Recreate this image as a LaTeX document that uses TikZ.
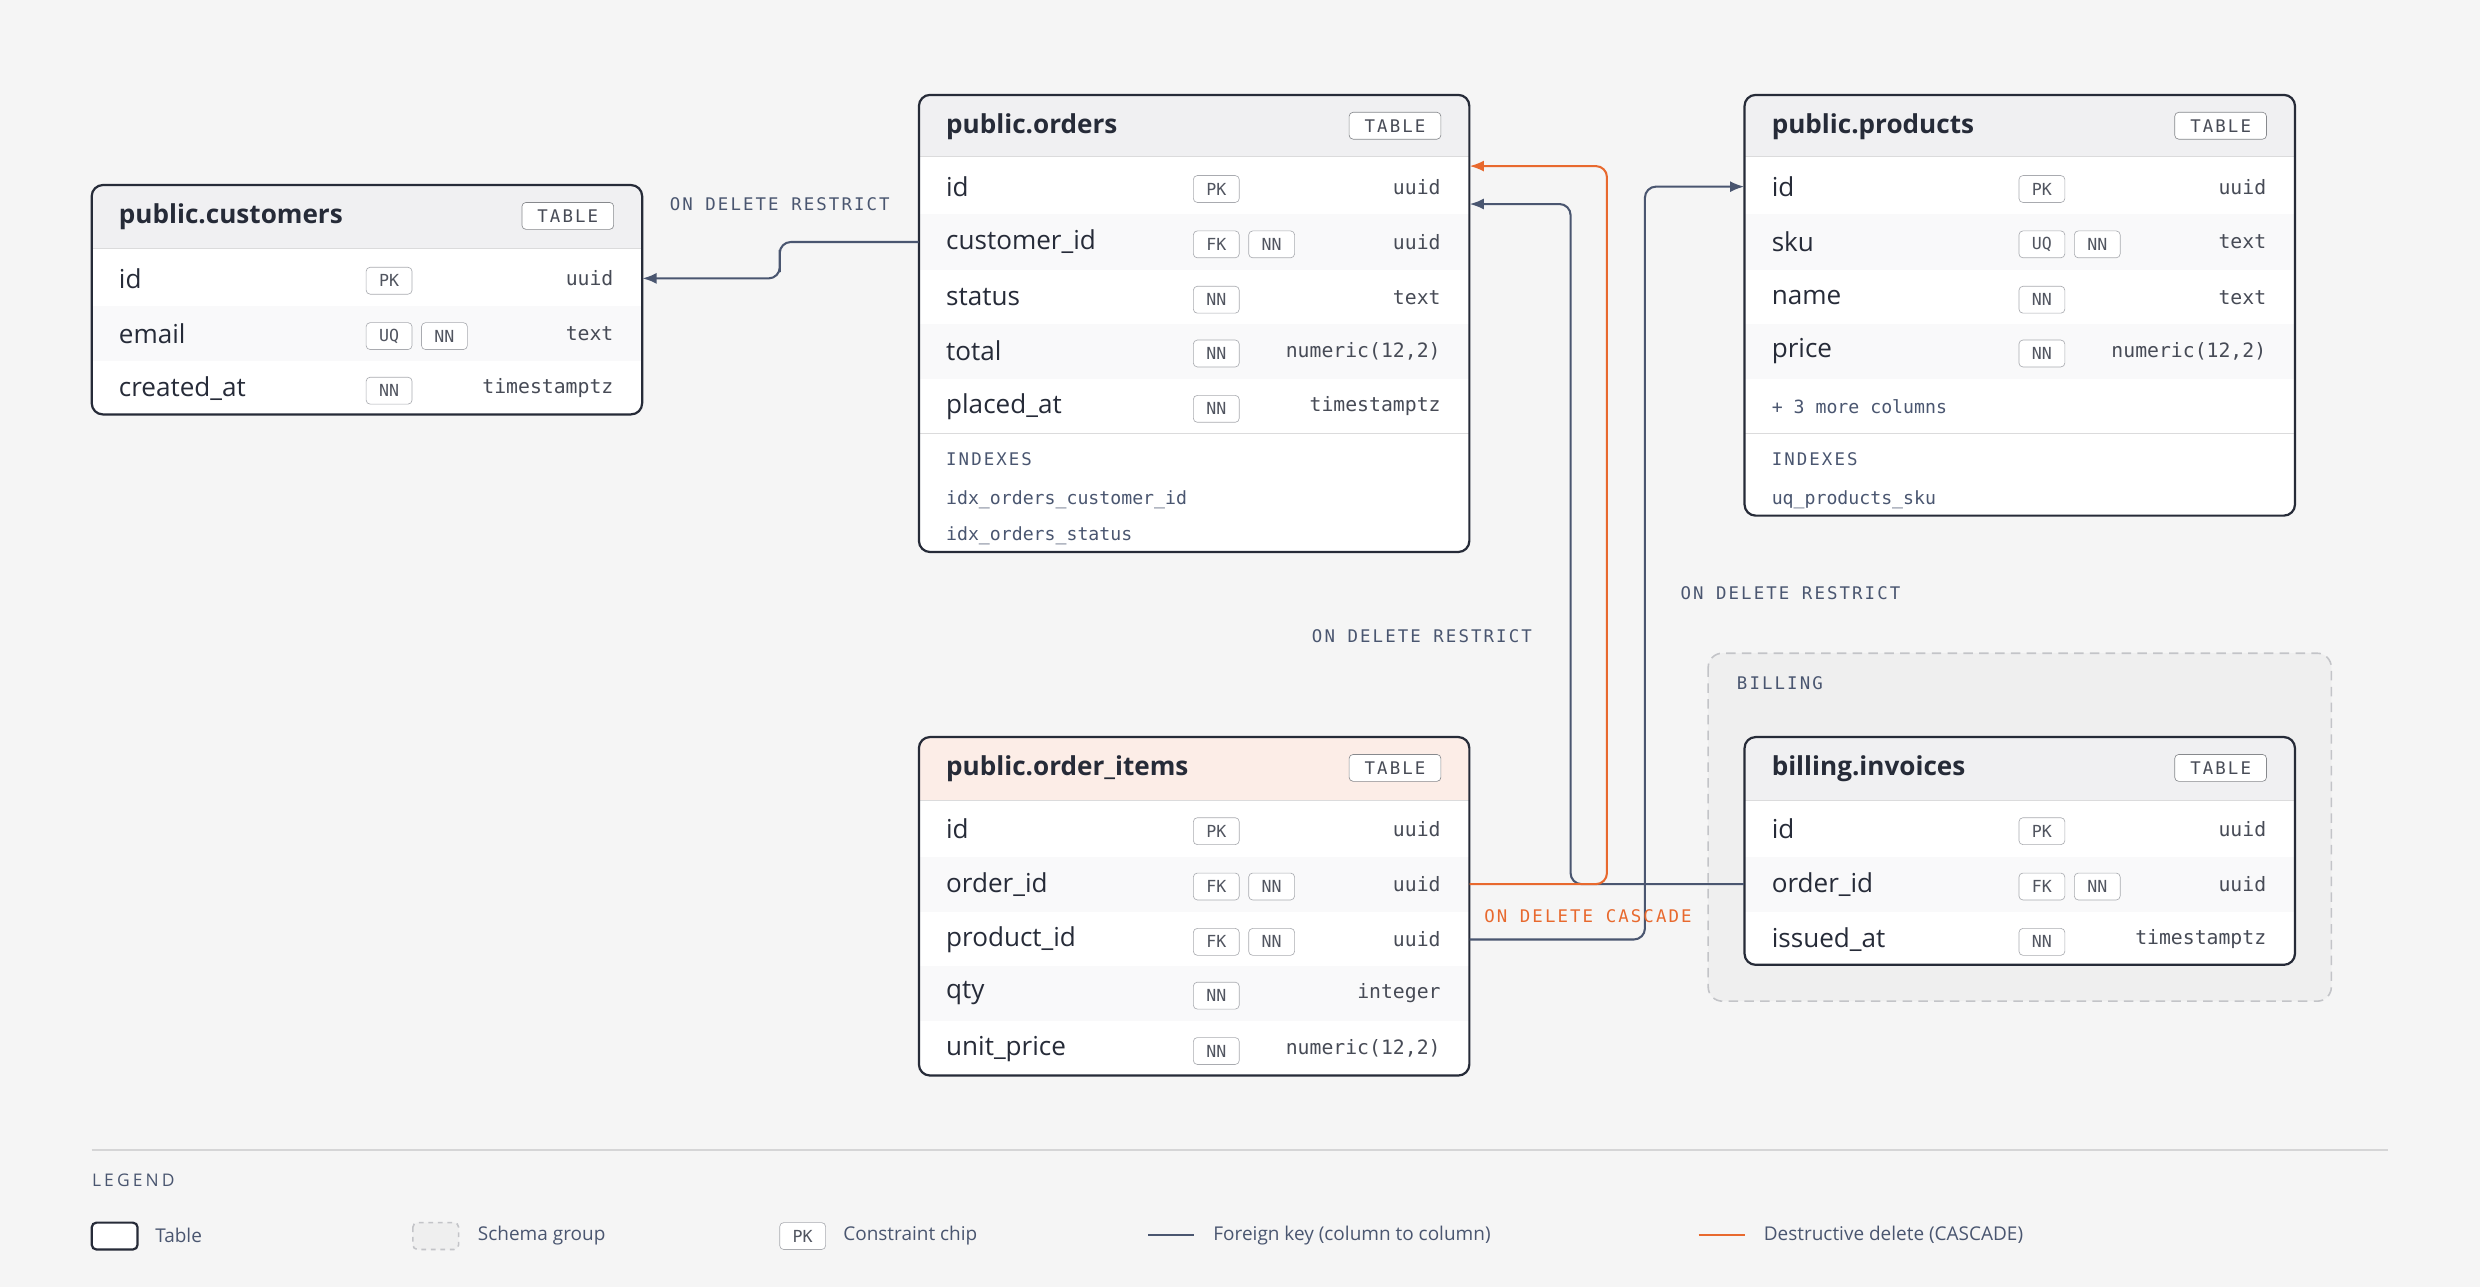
\documentclass[tikz,border=0pt]{standalone}
\usepackage{fontspec}
\setmainfont{Open Sans}
\setmonofont{DejaVu Sans Mono}
\newfontfamily\spacedmono{DejaVu Sans Mono}[LetterSpace=12]
\newfontfamily\spacedsans{Open Sans}[LetterSpace=18]
\definecolor{bg}{HTML}{F5F5F5}
\definecolor{ink}{HTML}{262B38}
\definecolor{slate}{HTML}{4A5670}
\definecolor{cascade}{HTML}{E8692E}
\definecolor{chipline}{HTML}{A9ABB0}
\definecolor{headfill}{HTML}{F0F0F2}
\definecolor{rowalt}{HTML}{F9F9FA}
\definecolor{hotfill}{HTML}{FCEDE7}
\definecolor{groupfill}{HTML}{EFEFEF}
\usetikzlibrary{arrows.meta}
\tikzset{
  row/.style={draw=none,minimum width=348pt,minimum height=34.8pt,inner sep=0pt},
  colname/.style={font=\fontsize{16.5}{18}\selectfont,text=ink,inner sep=0pt},
  coltype/.style={font=\ttfamily\fontsize{12.5}{14}\selectfont,text=ink!85,inner sep=0pt},
  chip/.style={draw=chipline,rounded corners=2.5pt,minimum width=29pt,minimum height=17pt,inner sep=0pt,
    font=\ttfamily\fontsize{10.5}{12}\selectfont,text=ink!80,fill=white},
  ttitle/.style={font=\bfseries\fontsize{16.5}{18}\selectfont,text=ink,inner sep=0pt},
  tag/.style={draw=chipline!80!black,rounded corners=2.5pt,minimum width=58pt,minimum height=17pt,inner sep=0pt,
    font=\spacedmono\fontsize{11}{12}\selectfont,text=ink!85,fill=white},
  small/.style={font=\ttfamily\fontsize{11.5}{13}\selectfont,text=slate,inner sep=0pt},
  rule/.style={font=\spacedmono\fontsize{11}{13}\selectfont,text=slate,inner sep=0pt},
  fk/.style={draw=slate,line width=1.3pt,rounded corners=7pt,-{Latex[length=9pt,width=7pt]}},
  del/.style={draw=cascade,line width=1.3pt,rounded corners=7pt,-{Latex[length=9pt,width=7pt]}},
  frame/.style={draw=ink,line width=1.4pt,rounded corners=7pt},
  legtext/.style={font=\fontsize{12}{14}\selectfont,text=slate,inner sep=0pt,anchor=west}
}
% one column row: name, left x, centre y, label, chips, type, fill
\newcommand\trow[7]{%
  \node[row,fill=#7] (#1) at (#2+174,-#3) {};
  \node[colname,anchor=west] at (#2+17,-#3) {#4};
  \foreach \c [count=\i] in {#5} {\node[chip] at (#2+153+35*\i,-#3-1.5) {\c};}
  \node[coltype,anchor=east] at (#2+330,-#3) {#6};}
% table header: left x, top y, header bottom y, title, fill
\newcommand\thead[5]{%
  \fill[#5] (#1,-#2) rectangle (#1+348,-#3);
  \draw[headfill!60!gray!60,line width=1pt] (#1,-#3) -- (#1+348,-#3);
  \node[ttitle,anchor=west] at (#1+17,-#2-20) {#4};
  \node[tag] at (#1+301,-#2-19.5) {TABLE};}
\begin{document}
\begin{tikzpicture}[x=1pt,y=1pt]
\fill[bg] (0,0) rectangle (1568,-814);
\useasboundingbox (0,0) rectangle (1568,-814);

% schema group
\draw[chipline!70,dashed,dash pattern=on 6pt off 4pt,line width=1pt,fill=groupfill,rounded corners=9pt]
  (1080,-413) rectangle (1474,-633);
\node[rule,anchor=west] at (1098,-432) {BILLING};

% public.customers
\begin{scope}
\clip[rounded corners=7pt] (58,-117) rectangle (406,-262);
\fill[white] (58,-117) rectangle (406,-262);
\thead{58}{117}{157}{public.customers}{headfill}
\trow{cu-id}{58}{176}{id}{PK}{uuid}{white}
\trow{cu-email}{58}{211}{email}{UQ,NN}{text}{rowalt}
\trow{cu-created}{58}{245.5}{created\_at}{NN}{timestamptz}{white}
\end{scope}
\draw[frame] (58,-117) rectangle (406,-262);

% public.orders
\begin{scope}
\clip[rounded corners=7pt] (581,-60) rectangle (929,-349);
\fill[white] (581,-60) rectangle (929,-349);
\thead{581}{60}{99}{public.orders}{headfill}
\trow{or-id}{581}{118}{id}{PK}{uuid}{white}
\trow{or-cust}{581}{153}{customer\_id}{FK,NN}{uuid}{rowalt}
\trow{or-status}{581}{188}{status}{NN}{text}{white}
\trow{or-total}{581}{222}{total}{NN}{numeric(12,2)}{rowalt}
\trow{or-placed}{581}{257}{placed\_at}{NN}{timestamptz}{white}
\draw[headfill!60!gray!60,line width=1pt] (581,-274) -- (929,-274);
\node[rule,anchor=west] at (598,-290) {INDEXES};
\node[small,anchor=west] at (598,-316) {idx\_orders\_customer\_id};
\node[small,anchor=west] at (598,-339) {idx\_orders\_status};
\end{scope}
\draw[frame] (581,-60) rectangle (929,-349);

% public.products
\begin{scope}
\clip[rounded corners=7pt] (1103,-60) rectangle (1451,-326);
\fill[white] (1103,-60) rectangle (1451,-326);
\thead{1103}{60}{99}{public.products}{headfill}
\trow{pr-id}{1103}{118}{id}{PK}{uuid}{white}
\trow{pr-sku}{1103}{153}{sku}{UQ,NN}{text}{rowalt}
\trow{pr-name}{1103}{188}{name}{NN}{text}{white}
\trow{pr-price}{1103}{222}{price}{NN}{numeric(12,2)}{rowalt}
\node[small,anchor=west] at (1120,-257) {+ 3 more columns};
\draw[headfill!60!gray!60,line width=1pt] (1103,-274) -- (1451,-274);
\node[rule,anchor=west] at (1120,-290) {INDEXES};
\node[small,anchor=west] at (1120,-316) {uq\_products\_sku};
\end{scope}
\draw[frame] (1103,-60) rectangle (1451,-326);

% public.order_items
\begin{scope}
\clip[rounded corners=7pt] (581,-466) rectangle (929,-680);
\fill[white] (581,-466) rectangle (929,-680);
\thead{581}{466}{506}{public.order\_items}{hotfill}
\trow{oi-id}{581}{524}{id}{PK}{uuid}{white}
\trow{oi-order}{581}{559}{order\_id}{FK,NN}{uuid}{rowalt}
\trow{oi-product}{581}{594}{product\_id}{FK,NN}{uuid}{white}
\trow{oi-qty}{581}{628}{qty}{NN}{integer}{rowalt}
\trow{oi-price}{581}{663}{unit\_price}{NN}{numeric(12,2)}{white}
\end{scope}
\draw[frame] (581,-466) rectangle (929,-680);

% billing.invoices
\begin{scope}
\clip[rounded corners=7pt] (1103,-466) rectangle (1451,-610);
\fill[white] (1103,-466) rectangle (1451,-610);
\thead{1103}{466}{506}{billing.invoices}{headfill}
\trow{in-id}{1103}{524}{id}{PK}{uuid}{white}
\trow{in-order}{1103}{559}{order\_id}{FK,NN}{uuid}{rowalt}
\trow{in-issued}{1103}{594}{issued\_at}{NN}{timestamptz}{white}
\end{scope}
\draw[frame] (1103,-466) rectangle (1451,-610);

% relations
\coordinate (or-id-hi) at ([yshift=13pt]or-id.east);
\coordinate (or-id-lo) at ([yshift=-11pt]or-id.east);
\draw[fk] (or-cust.west) -| (493,-165) |- (cu-id.east);
\draw[fk] (in-order.west) -| (993,-300) |- (or-id-lo);
\draw[fk] (oi-product.east) -| (1040,-300) |- (pr-id.west);
\draw[del] (oi-order.east) -| (1016,-300) |- (or-id-hi);
\node[rule] at (493,-129) {ON DELETE RESTRICT};
\node[rule] at (899,-402) {ON DELETE RESTRICT};
\node[rule] at (1132,-375) {ON DELETE RESTRICT};
\node[rule,text=cascade] at (1004,-579) {ON DELETE CASCADE};

% legend
\draw[headfill!60!gray!70,line width=1pt] (58,-727) -- (1510,-727);
\node[legtext,font=\spacedsans\fontsize{11}{13}\selectfont] at (58,-746) {LEGEND};
\draw[frame,rounded corners=3pt,fill=white] (58,-773) rectangle (87,-790);
\node[legtext] at (98,-781) {Table};
\draw[chipline!70,dashed,line width=1pt,fill=groupfill,rounded corners=3pt] (261,-773) rectangle (290,-790);
\node[legtext] at (302,-781) {Schema group};
\node[chip] at (507.5,-781.5) {PK};
\node[legtext] at (533,-781) {Constraint chip};
\draw[slate,line width=1.3pt] (726,-781) -- (755,-781);
\node[legtext] at (767,-781) {Foreign key (column to column)};
\draw[cascade,line width=1.3pt] (1074,-781) -- (1103,-781);
\node[legtext] at (1115,-781) {Destructive delete (CASCADE)};
\end{tikzpicture}
\end{document}
